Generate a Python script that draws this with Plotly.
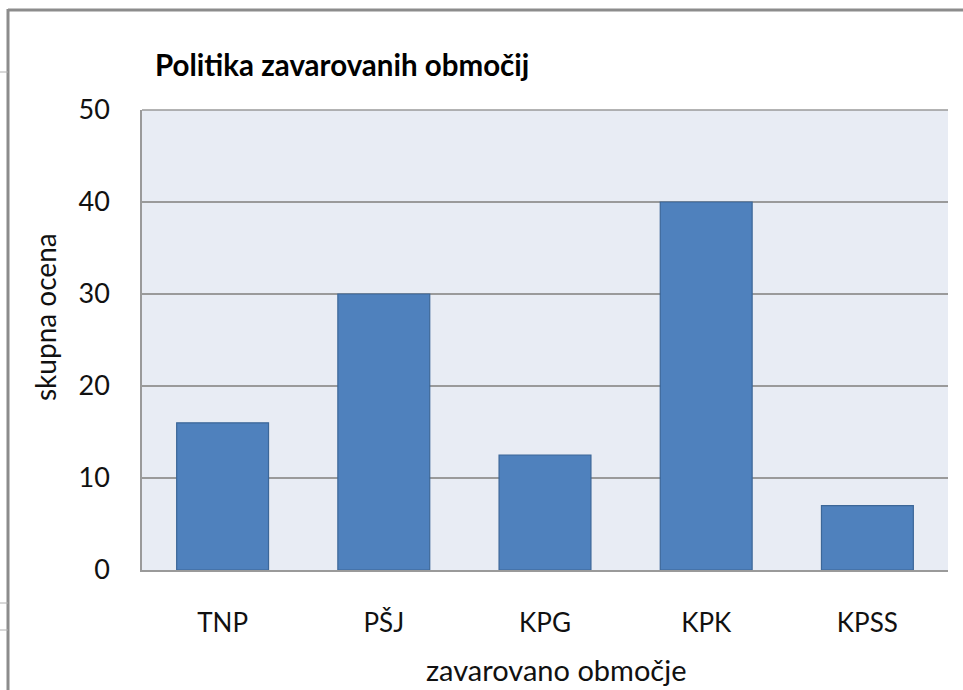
import plotly.graph_objects as go

# Skupna ocena politike po zavarovanih območjih
categories = ["TNP", "PŠJ", "KPG", "KPK", "KPSS"]
scores = [16, 30, 12.5, 40, 7]
y_ticks = [0, 10, 20, 30, 40, 50]

title_text = "Politika zavarovanih območij"
x_title = "zavarovano območje"
y_title = "skupna ocena"

FONT = "Lato, 'Open Sans', sans-serif"
GRID = "#9a9a9a"

W, H = 963, 690
ML, MR, MT, MB = 142, 15, 110, 120
PW, PH = W - ML - MR, H - MT - MB


def px_x(px):
    return (px - ML) / PW


def px_y(py):
    return (H - MB - py) / PH


fig = go.Figure(
    go.Bar(
        x=categories,
        y=scores,
        marker=dict(color="#4f81bd", line=dict(color="#3c6798", width=1.2)),
        width=0.57,
        hoverinfo="x+y",
    )
)

shapes = [
    # outer chart frame (top and left edges)
    dict(type="line", xref="paper", yref="paper",
         x0=px_x(8), x1=px_x(W + 5), y0=px_y(10), y1=px_y(10),
         line=dict(color="#8c8c8c", width=3)),
    dict(type="line", xref="paper", yref="paper",
         x0=px_x(8), x1=px_x(8), y0=px_y(9), y1=px_y(H + 5),
         line=dict(color="#8c8c8c", width=3)),
    # plot area top border
    dict(type="line", xref="paper", yref="paper",
         x0=0, x1=1, y0=1, y1=1, line=dict(color=GRID, width=1.5)),
]
for py in (72, 603, 630):
    shapes.append(dict(type="line", xref="paper", yref="paper",
                       x0=px_x(0), x1=px_x(8), y0=px_y(py), y1=px_y(py),
                       line=dict(color="#b0b0b0", width=1)))

fig.update_layout(
    width=W,
    height=H,
    margin=dict(l=ML, r=MR, t=MT, b=MB, pad=0),
    paper_bgcolor="white",
    plot_bgcolor="#e8ecf4",
    font=dict(family=FONT, color="#111111", size=26),
    showlegend=False,
    title=dict(
        text="<b>" + title_text + "</b>",
        x=155 / W, xanchor="left", xref="container",
        y=1 - 66 / H, yanchor="middle", yref="container",
        font=dict(family=FONT, size=29.5, color="#000000"),
    ),
    xaxis=dict(
        showgrid=False,
        showline=True, linecolor=GRID, linewidth=1.5,
        ticks="outside", ticklen=29, tickcolor="rgba(0,0,0,0)",
        tickfont=dict(size=26),
        fixedrange=True,
    ),
    yaxis=dict(
        range=[0, 50],
        tickvals=y_ticks,
        showgrid=True, gridcolor=GRID, gridwidth=1.5,
        showline=True, linecolor=GRID, linewidth=1.5,
        zeroline=False,
        ticks="outside", ticklen=25, tickcolor="rgba(0,0,0,0)",
        tickfont=dict(size=27),
        fixedrange=True,
    ),
    shapes=shapes,
    annotations=[
        dict(text=x_title, xref="paper", yref="paper",
             x=px_x(556), y=px_y(669), xanchor="center", yanchor="middle",
             showarrow=False, font=dict(size=29)),
        dict(text=y_title, xref="paper", yref="paper",
             x=px_x(45), y=px_y(317), xanchor="center", yanchor="middle",
             textangle=-90, showarrow=False, font=dict(size=28)),
    ],
)

fig.write_html("out.html")
